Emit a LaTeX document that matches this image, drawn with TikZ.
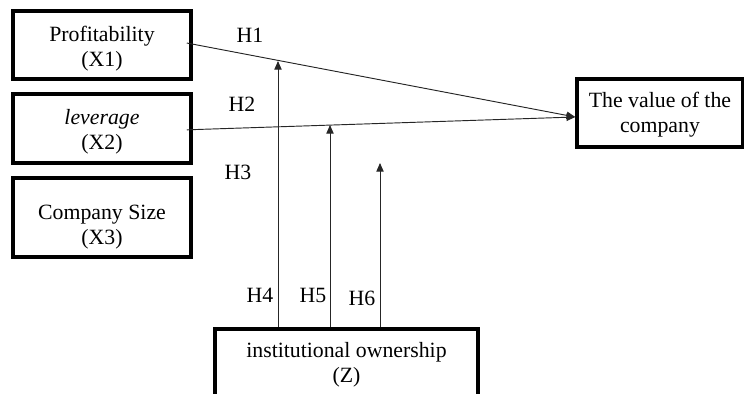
\documentclass[tikz,border=0pt]{standalone}
\usepackage{fontspec}
\setmainfont{Liberation Serif}
\usetikzlibrary{arrows.meta,calc,positioning}
% strut on the first line, lowers the text inside its box
\newcommand{\topgap}[1]{\rule{0pt}{#1}}

\begin{document}
\begin{tikzpicture}[
    x=0.03cm,y=-0.03cm,
    varbox/.style={draw=black,line width=3pt,fill=white,
      minimum width=5.34cm,align=center,font=\fontsize{18.6}{21.5}\selectfont},
    hyplabel/.style={font=\fontsize{18.6}{21.5}\selectfont,inner sep=0pt},
    link/.style={-{Triangle[length=2.6mm,width=2.2mm]},line width=0.8pt,color=black!85}
  ]
    \useasboundingbox (0,0) rectangle (744,394);

    \node[varbox,minimum height=2.04cm] (prof) at (102,45) {\topgap{19.5pt}Profitability\\(X1)};
    \node[varbox,minimum height=2.07cm] (lev) at (102,128.5) {\topgap{18.5pt}\textit{leverage}\\(X2)};
    \node[varbox,minimum height=2.37cm] (size) at (102,217.5) {\topgap{29pt}Company Size\\(X3)};
    \node[varbox,minimum width=4.98cm,minimum height=2.04cm] (value) at (660,113) {\topgap{16pt}The value of the\\company};
    \node[varbox,minimum width=7.89cm,minimum height=2.16cm] (inst) at (346.5,365) {institutional ownership\\(Z)};

    \coordinate (join) at (value.west |- 0,117);
    \coordinate (m1) at (278,61);
    \coordinate (m2) at (330,125);
    \coordinate (m3) at (380,163);

    \draw[link] ([xshift=-0.18cm,yshift=0.06cm]prof.east) -- (join);
    \draw[link] ([xshift=-0.18cm,yshift=-0.04cm]lev.east) -- (join);
    \draw[link] (inst.north -| m1) -- (m1);
    \draw[link] (inst.north -| m2) -- (m2);
    \draw[link] (inst.north -| m3) -- (m3);

    \node[hyplabel] (h1) at (250,35) {H1};
    \node[hyplabel] (h2) at (242,104) {H2};
    \node[hyplabel] (h3) at (238,172) {H3};
    \node[hyplabel] (h4) at (260,295) {H4};
    \node[hyplabel] (h5) at (313,295) {H5};
    \node[hyplabel] (h6) at (362,298) {H6};
\end{tikzpicture}
\end{document}
